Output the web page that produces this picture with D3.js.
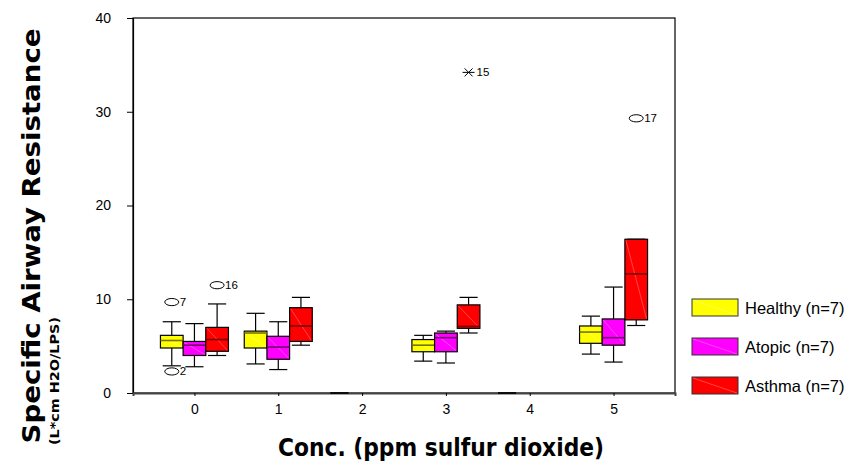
<!DOCTYPE html>
<html>
<head>
<meta charset="utf-8">
<script src="https://cdn.jsdelivr.net/npm/d3@7"></script>
<style>
  body { margin: 0; background: #fff; }
  svg { display: block; }
</style>
</head>
<body>
<div id="chart"></div>
<script>
// concentrations on the x axis
const concs = [0, 1, 2, 3, 4, 5];
const groups = ["Healthy (n=7)", "Atopic (n=7)", "Asthma (n=7)"];
const yTicks = [0, 10, 20, 30, 40];

// box stats per conc: [whisker low, q1, median, q3, whisker high], null = no box
const healthyStats = [[2.9, 4.8, 5.6, 6.15, 7.6], [3.1, 4.8, 6.4, 6.6, 8.5], [0, 0, 0, 0, 0],
                      [3.4, 4.4, 5.1, 5.7, 6.15], [0, 0, 0, 0, 0], [4.15, 5.3, 6.5, 7.15, 8.2]];
const atopicStats = [[2.8, 4.0, 5.1, 5.5, 7.4], [2.5, 3.6, 4.9, 6.05, 7.6], null,
                     [3.2, 4.4, 5.9, 6.4, 6.6], null, [3.3, 5.1, 5.9, 7.9, 11.3]];
const asthmaStats = [[4.0, 4.45, 5.7, 7.0, 9.5], [5.1, 5.5, 7.15, 9.1, 10.2], null,
                     [6.4, 6.9, 7.1, 9.4, 10.2], null, [7.2, 7.8, 12.7, 16.4, 16.4]];

// outliers: group index, conc, value, case label, mark ("o" circle, "x" extreme)
const outliers = [
  {g: 0, conc: 0, v: 9.7, label: "7", mark: "o"},
  {g: 0, conc: 0, v: 2.3, label: "2", mark: "o"},
  {g: 2, conc: 0, v: 11.5, label: "16", mark: "o"},
  {g: 2, conc: 3, v: 34.2, label: "15", mark: "x"},
  {g: 2, conc: 5, v: 29.3, label: "17", mark: "o"}
];

const colors = ["#ffff00", "#ff00ff", "#ff0000"];
const allStats = [healthyStats, atopicStats, asthmaStats];

let W = 851, H = 466;
let plot = {left: 133, right: 675, top: 18, bottom: 393};

let svg = d3.select("#chart").append("svg")
    .attr("width", W)
    .attr("height", H);

let x = d3.scaleLinear()
    .domain([-0.733, 5.733])
    .range([plot.left, plot.right]);

let y = d3.scaleLinear()
    .domain([0, 40])
    .range([plot.bottom, plot.top]);

// offsets of the three boxes inside a conc group
let xg = d3.scaleBand()
    .domain(d3.range(groups.length))
    .range([-34, 34]);
let bw = xg.bandwidth();

// frame
svg.append("rect")
    .attr("x", plot.left)
    .attr("y", plot.top)
    .attr("width", plot.right - plot.left)
    .attr("height", plot.bottom - plot.top)
    .attr("fill", "none")
    .attr("stroke", "#000")
    .attr("stroke-width", 1.2);

// y axis
let yAxis = svg.append("g")
    .attr("transform", "translate(" + plot.left + ",0)")
    .call(d3.axisLeft(y).tickValues(yTicks).tickSize(6).tickPadding(16));
yAxis.select(".domain").attr("stroke-width", 1.2);
yAxis.selectAll("text")
    .attr("font-family", "Arial, 'Liberation Sans', sans-serif")
    .attr("font-size", 14)
    .attr("fill", "#000");

// x axis
let xAxis = svg.append("g")
    .attr("transform", "translate(0," + plot.bottom + ")")
    .call(d3.axisBottom(x).tickValues(concs).tickFormat(d3.format("d")).tickSize(3).tickPadding(8));
xAxis.select(".domain").attr("stroke", "#444").attr("stroke-width", 2);
xAxis.selectAll("text")
    .attr("font-family", "Arial, 'Liberation Sans', sans-serif")
    .attr("font-size", 14)
    .attr("fill", "#000");

// boxes
let boxes = [];
allStats.forEach((stats, g) => {
    stats.forEach((s, i) => {
        if (s) boxes.push({g: g, conc: concs[i], s: s});
    });
});

let bx = svg.append("g").attr("id", "boxes");
boxes.forEach(b => {
    let cx = x(b.conc) + xg(b.g) + bw / 2;
    let x0 = cx - bw / 2;
    let grp = bx.append("g");
    let capW = bw * 0.8;
    // whiskers
    grp.append("line")
        .attr("x1", cx).attr("x2", cx)
        .attr("y1", y(b.s[0])).attr("y2", y(b.s[1]))
        .attr("stroke", "#000").attr("stroke-width", 1.2);
    grp.append("line")
        .attr("x1", cx).attr("x2", cx)
        .attr("y1", y(b.s[3])).attr("y2", y(b.s[4]))
        .attr("stroke", "#000").attr("stroke-width", 1.2);
    [b.s[0], b.s[4]].forEach(v => {
        grp.append("line")
            .attr("x1", cx - capW / 2).attr("x2", cx + capW / 2)
            .attr("y1", y(v)).attr("y2", y(v))
            .attr("stroke", "#000").attr("stroke-width", 1.2);
    });
    // box
    let top = y(b.s[3]), bot = y(b.s[1]);
    grp.append("rect")
        .attr("x", x0).attr("y", top)
        .attr("width", bw).attr("height", bot - top)
        .attr("fill", colors[b.g])
        .attr("stroke", "#000")
        .attr("stroke-width", b.s[3] === 0 ? 2.5 : 1.2);
    if (bot - top > 0) {
        grp.append("line")
            .attr("x1", x0 + 1).attr("y1", top + 1)
            .attr("x2", x0 + bw - 1).attr("y2", bot - 1)
            .attr("stroke", "#fff").attr("stroke-opacity", 0.35).attr("stroke-width", 0.8);
        grp.append("line")
            .attr("x1", x0).attr("x2", x0 + bw)
            .attr("y1", y(b.s[2])).attr("y2", y(b.s[2]))
            .attr("stroke", d3.color(colors[b.g]).darker(2.2))
            .attr("stroke-width", 1.6);
    }
});

// outliers
let ol = svg.append("g").attr("id", "outliers");
outliers.forEach(o => {
    let cx = x(o.conc) + xg(o.g) + bw / 2;
    let cy = y(o.v);
    if (o.mark === "o") {
        ol.append("ellipse")
            .attr("cx", cx).attr("cy", cy)
            .attr("rx", 7).attr("ry", 3.6)
            .attr("fill", "none").attr("stroke", "#000").attr("stroke-width", 1);
    } else {
        ol.append("path")
            .attr("d", "M" + (cx - 6) + "," + cy + "H" + (cx + 6) +
                 "M" + (cx - 4) + "," + (cy - 4) + "L" + (cx + 4) + "," + (cy + 4) +
                 "M" + (cx - 4) + "," + (cy + 4) + "L" + (cx + 4) + "," + (cy - 4))
            .attr("stroke", "#000").attr("stroke-width", 1);
    }
    ol.append("text")
        .attr("x", cx + 8).attr("y", cy + 4)
        .attr("font-family", "Arial, 'Liberation Sans', sans-serif")
        .attr("font-size", 11.5)
        .text(o.label);
});

// legend
let legend = svg.append("g").attr("transform", "translate(692,299)");
groups.forEach((name, i) => {
    let row = legend.append("g").attr("transform", "translate(0," + (i * 39) + ")");
    row.append("rect")
        .attr("width", 46).attr("height", 17)
        .attr("fill", colors[i]).attr("stroke", "#333").attr("stroke-width", 1);
    row.append("line")
        .attr("x1", 1).attr("y1", 1).attr("x2", 45).attr("y2", 16)
        .attr("stroke", "#fff").attr("stroke-opacity", 0.35).attr("stroke-width", 0.8);
    row.append("text")
        .attr("x", 53).attr("y", 14.5)
        .attr("font-family", "Arial, 'Liberation Sans', sans-serif")
        .attr("font-size", 16.5)
        .text(name);
});

// axis titles
svg.append("text")
    .attr("transform", "translate(40,236) rotate(-90)")
    .attr("text-anchor", "middle")
    .attr("font-family", "'DejaVu Sans', sans-serif")
    .attr("font-weight", "bold")
    .attr("font-size", 24.5)
    .attr("textLength", 415)
    .attr("lengthAdjust", "spacingAndGlyphs")
    .text("Specific Airway Resistance");

svg.append("text")
    .attr("transform", "translate(59,381) rotate(-90)")
    .attr("text-anchor", "middle")
    .attr("font-family", "'DejaVu Sans', sans-serif")
    .attr("font-weight", "bold")
    .attr("font-size", 12.5)
    .attr("textLength", 128)
    .attr("lengthAdjust", "spacingAndGlyphs")
    .text("(L*cm H2O/LPS)");

svg.append("text")
    .attr("x", 441).attr("y", 456)
    .attr("text-anchor", "middle")
    .attr("font-family", "'DejaVu Sans', sans-serif")
    .attr("font-weight", "bold")
    .attr("font-size", 24)
    .attr("textLength", 326)
    .attr("lengthAdjust", "spacingAndGlyphs")
    .text("Conc. (ppm sulfur dioxide)");
</script>
</body>
</html>
